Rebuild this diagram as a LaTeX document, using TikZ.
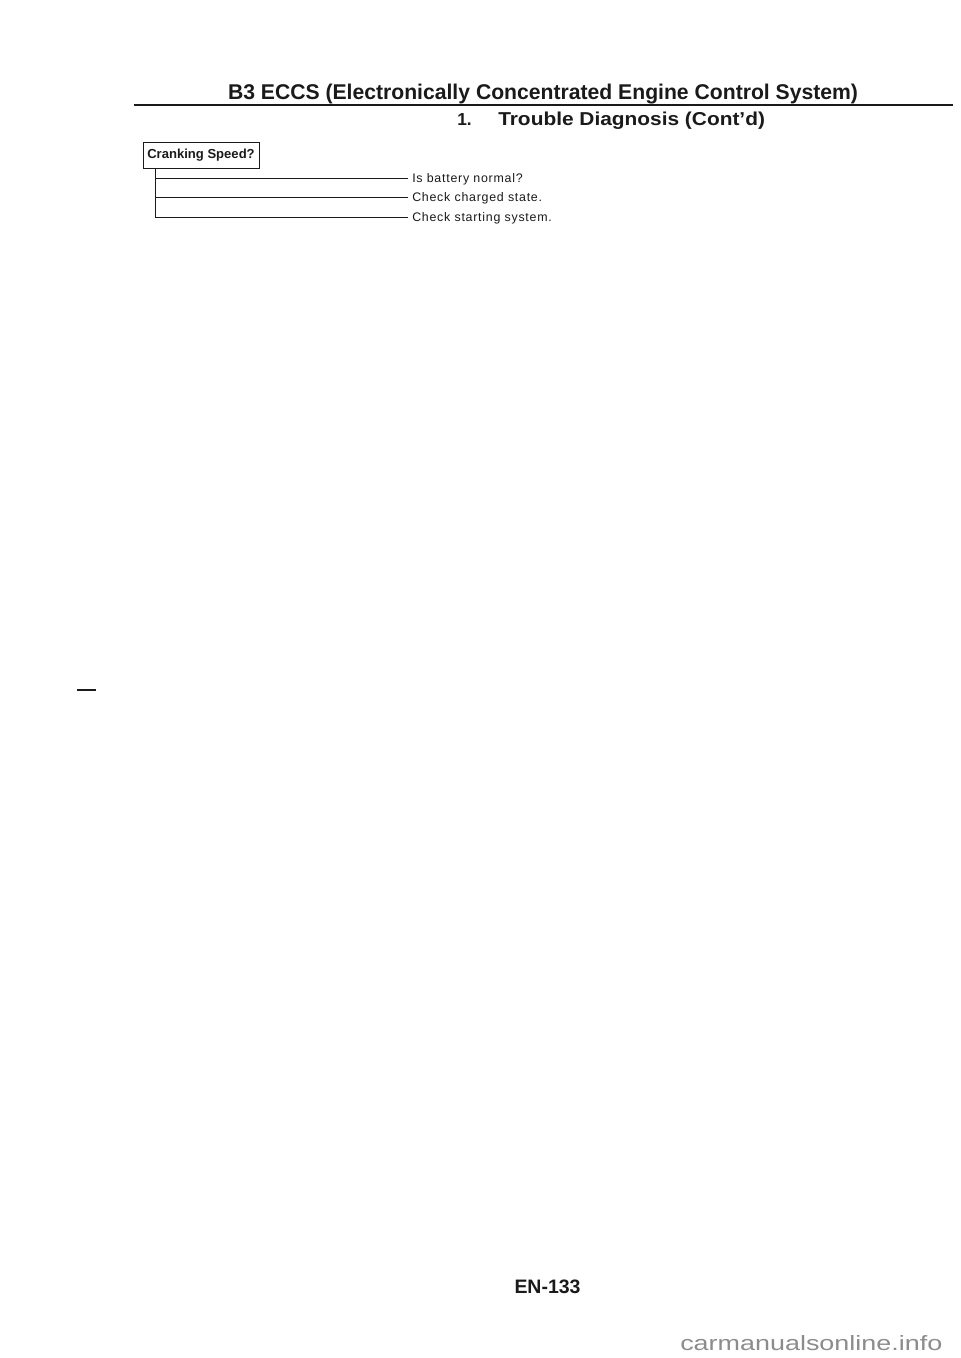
\documentclass[tikz,border=0pt]{standalone}
\usepackage{fontspec}
\usepackage{graphicx}
\setmainfont{Liberation Sans}
\newfontfamily\bodyfont[LetterSpace=6]{Liberation Sans}
\definecolor{ink}{HTML}{1A1A1A}
\definecolor{wm}{HTML}{8C8C8C}
\begin{document}
\begin{tikzpicture}[x=0.75pt,y=-0.75pt,
  inkline/.style={draw=ink,line width=0.6pt},
  titletext/.style={inner sep=0pt,text=ink,font=\bfseries},
  qbox/.style={draw=ink,line width=0.7pt,inner sep=0pt,minimum width=87pt,minimum height=19.5pt,font=\fontsize{9.8pt}{11pt}\selectfont\bfseries,text=ink},
  answer/.style={inner xsep=3pt,inner ysep=0pt,text height=6.5pt,text depth=0pt,anchor=west,font=\fontsize{9.3pt}{10pt}\bodyfont,text=ink}]
\useasboundingbox (0,0) rectangle (960,1358);
\fill[white] (0,0) rectangle (960,1358);
% header
\node[titletext,anchor=base] (title) at (543,100) {\resizebox{472.5pt}{\height}{\fontsize{16pt}{18pt}\selectfont\bfseries B3 ECCS (Electronically Concentrated Engine Control System)}};
\coordinate (ruleL) at (134,105);
\coordinate (ruleR) at (953,105);
\draw[ink,line width=1.8pt] (ruleL) -- (ruleR);
\node[titletext,anchor=base west] (num) at (457,126) {\fontsize{13pt}{14pt}\selectfont 1.};
\node[titletext,anchor=base west] (sub) at (498,126) {\resizebox{200pt}{\height}{\fontsize{14pt}{16pt}\selectfont\bfseries Trouble Diagnosis (Cont’d)}};
% tree
\node[qbox] (cs) at (201,155) {Cranking Speed?};
\coordinate (trunk) at (155,168);
\node[answer] (t1) at (408,178) {Is battery normal?};
\node[answer] (t2) at (408,197.5) {Check charged state.};
\node[answer] (t3) at (408,217) {Check starting system.};
\draw[inkline] (trunk) |- (t3.west);
\draw[inkline] (t1.west) -- (t1.west -| trunk);
\draw[inkline] (t2.west) -- (t2.west -| trunk);
% stray mark
\coordinate (dashL) at (77,690);
\coordinate (dashR) at (96,690);
\draw[ink,line width=1.5pt] (dashL) -- (dashR);
% page number
\node[titletext,anchor=base] (page) at (547.5,1293) {\fontsize{14.6pt}{16pt}\selectfont EN-133};
% watermark
\node[inner sep=0pt,anchor=base west,text=wm] (wmark) at (680,1350) {\resizebox{196.5pt}{\height}{\fontsize{15.5pt}{17pt}\selectfont carmanualsonline.info}};
\end{tikzpicture}
\end{document}
